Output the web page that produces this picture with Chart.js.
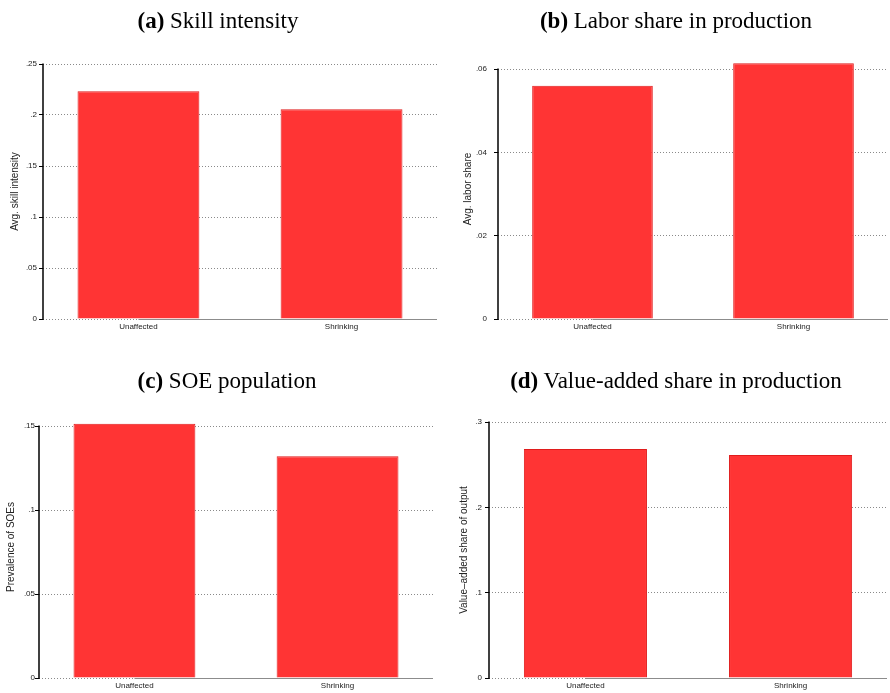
<!DOCTYPE html>
<html>
<head>
<meta charset="utf-8">
<script src="https://cdn.jsdelivr.net/npm/chart.js@4/dist/chart.umd.min.js"></script>
<style>
  html, body { margin: 0; padding: 0; background: #fff; }
  #wrap { position: relative; width: 890px; height: 693px; overflow: hidden; }
  canvas { position: absolute; }
  .ttl {
    position: absolute; width: 440px; text-align: center;
    font-family: 'Liberation Serif', 'Times New Roman', serif;
    font-size: 23px; line-height: 24px; color: #000; white-space: nowrap;
  }
  .ttl b { font-size: 23px; }
</style>
</head>
<body>
<div id="wrap">
  <canvas id="panelA" width="445" height="346" style="left:0;top:0"></canvas>
  <canvas id="panelB" width="445" height="346" style="left:445px;top:0"></canvas>
  <canvas id="panelC" width="445" height="347" style="left:0;top:346px"></canvas>
  <canvas id="panelD" width="445" height="347" style="left:445px;top:346px"></canvas>
  <div class="ttl" style="left:-2px;top:9px"><b>(a)</b> Skill intensity</div>
  <div class="ttl" style="left:456px;top:9px"><b>(b)</b> Labor share in production</div>
  <div class="ttl" style="left:7px;top:369px"><b>(c)</b> SOE population</div>
  <div class="ttl" style="left:456px;top:369px"><b>(d)</b> Value-added share in production</div>
</div>
<script>
// Firm groups on the horizontal axis
const categories = ['Unaffected', 'Shrinking'];

// Group means for each panel
const skillIntensity  = [0.2233, 0.2056];
const laborShare      = [0.0560, 0.0614];
const soePrevalence   = [0.1514, 0.1320];
const valueAddedShare = [0.2684, 0.2613];

// Vertical axis ticks and their printed labels
const skillTicks      = [0, 0.05, 0.1, 0.15, 0.2, 0.25];
const skillTickLabels = ['0', '.05', '.1', '.15', '.2', '.25'];
const laborTicks      = [0, 0.02, 0.04, 0.06];
const laborTickLabels = ['0', '.02', '.04', '.06'];
const soeTicks        = [0, 0.05, 0.1, 0.15];
const soeTickLabels   = ['0', '.05', '.1', '.15'];
const vaTicks         = [0, 0.1, 0.2, 0.3];
const vaTickLabels    = ['0', '.1', '.2', '.3'];

Chart.defaults.font.family = "'Liberation Sans', Arial, sans-serif";
Chart.defaults.color = '#333';

// Axis lines: a black vertical axis spanning the tick range, and a grey
// baseline running from the first group's centre to the right edge
const axisLines = {
  id: 'axisLines',
  afterDatasetsDraw(chart) {
    const { ctx, chartArea, scales } = chart;
    const yScale = scales.y;
    const y0 = Math.round(yScale.getPixelForValue(0)) + 0.5;
    const yTop = yScale.getPixelForValue(yScale.ticks[yScale.ticks.length - 1].value);
    const x0 = scales.x.getPixelForValue(0);
    ctx.save();
    ctx.strokeStyle = '#8c8c8c';
    ctx.lineWidth = 1;
    ctx.beginPath();
    ctx.moveTo(x0, y0);
    ctx.lineTo(chartArea.right, y0);
    ctx.stroke();
    ctx.strokeStyle = '#000';
    ctx.lineWidth = 1.5;
    ctx.beginPath();
    ctx.moveTo(chartArea.left, yTop - 0.5);
    ctx.lineTo(chartArea.left, y0 + 0.5);
    ctx.stroke();
    ctx.restore();
  }
};

function barPanel(id, values, ticks, tickLabels, yTitle, lay) {
  new Chart(document.getElementById(id), {
    type: 'bar',
    data: {
      datasets: [{
        data: values.map((v, i) => ({ x: i, y: v })),
        backgroundColor: '#ff3434',
        borderColor: '#e01c1c',
        borderWidth: 1,
        categoryPercentage: 1,
        barPercentage: 0.6
      }]
    },
    options: {
      responsive: false,
      animation: false,
      devicePixelRatio: 1,
      layout: { padding: lay.pad },
      plugins: { legend: { display: false }, tooltip: { enabled: false } },
      scales: {
        x: {
          type: 'linear',
          offset: false,
          min: -0.47,
          max: 1.47,
          afterBuildTicks: s => { s.ticks = categories.map((_, i) => ({ value: i })); },
          afterFit: s => { s.height = 14; },
          grid: { display: false, drawTicks: false, offset: false },
          border: { display: false },
          ticks: {
            padding: 3,
            maxRotation: 0,
            font: { size: 8 },
            color: '#222',
            callback: v => categories[v]
          }
        },
        y: {
          min: 0,
          max: lay.yMax,
          afterBuildTicks: s => { s.ticks = ticks.map(v => ({ value: v })); },
          afterFit: s => { s.width = lay.yWidth; },
          grid: {
            color: '#8a8a8a',
            lineWidth: 1,
            drawTicks: true,
            tickLength: 4,
            tickColor: '#000',
            tickWidth: 1,
            tickBorderDash: []
          },
          border: { display: false, dash: [1, 2] },
          ticks: {
            padding: lay.tickPad,
            font: { size: 8 },
            color: '#222',
            callback: (v, i) => tickLabels[i]
          },
          title: {
            display: true,
            text: yTitle,
            font: { size: 10 },
            color: '#222',
            padding: { top: lay.titlePad, bottom: 0 }
          }
        }
      }
    },
    plugins: [axisLines]
  });
}

barPanel('panelA', skillIntensity, skillTicks, skillTickLabels, 'Avg. skill intensity',
  { pad: { top: 64, right: 8, bottom: 13, left: 0 }, yMax: 0.25, yWidth: 43, titlePad: 9, tickPad: 2 });
barPanel('panelB', laborShare, laborTicks, laborTickLabels, 'Avg. labor share',
  { pad: { top: 59, right: 2, bottom: 13, left: 0 }, yMax: 0.0624, yWidth: 53, titlePad: 17, tickPad: 7 });
barPanel('panelC', soePrevalence, soeTicks, soeTickLabels, 'Prevalence of SOEs',
  { pad: { top: 70, right: 12, bottom: 1, left: 0 }, yMax: 0.156, yWidth: 39, titlePad: 5, tickPad: 0 });
barPanel('panelD', valueAddedShare, vaTicks, vaTickLabels, 'Value\u2013added share of output',
  { pad: { top: 76, right: 3, bottom: 1, left: 0 }, yMax: 0.3, yWidth: 44, titlePad: 13, tickPad: 3 });
</script>
</body>
</html>
